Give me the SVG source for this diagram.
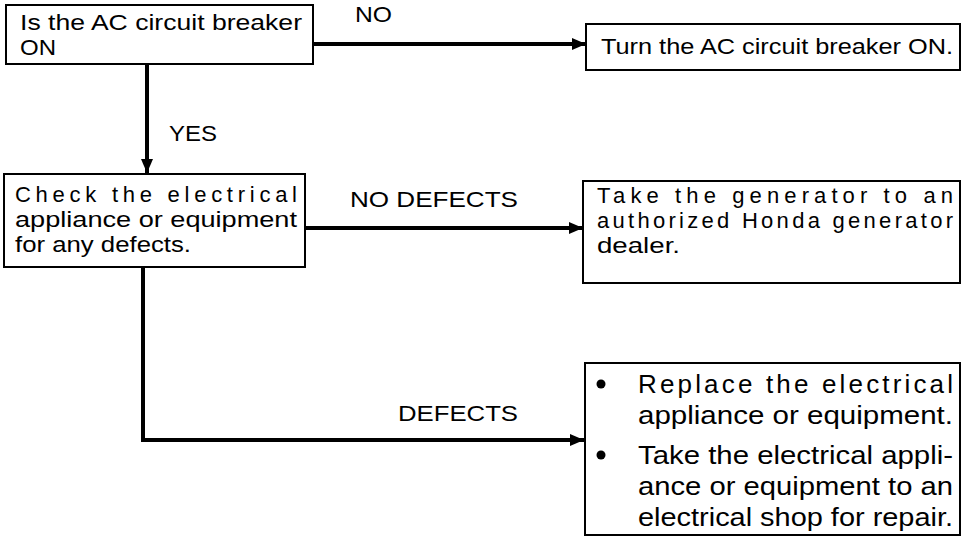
<svg xmlns="http://www.w3.org/2000/svg" width="965" height="545" viewBox="0 0 965 545">
<style>
.box{fill:#fff;stroke:#000;stroke-width:2}
.t{font-family:"Liberation Sans",Arial,Helvetica,sans-serif;font-size:22px;fill:#000}
.t5{font-family:"Liberation Sans",Arial,Helvetica,sans-serif;font-size:26px;fill:#000}
.lbl{font-family:"Liberation Sans",Arial,Helvetica,sans-serif;font-size:22px;fill:#000}
.c{fill:none;stroke:#000;stroke-width:4;marker-end:url(#ah)}
</style>
<defs>
<marker id="ah" markerUnits="userSpaceOnUse" markerWidth="14" markerHeight="12" refX="14" refY="6" orient="auto">
<path d="M0,0 L14,6 L0,12 Z" fill="#000"/>
</marker>
</defs>
<rect width="965" height="545" fill="#fff"/>
<g id="connectors">
<path class="c" d="M147,64 V173"/>
<path class="c" d="M313,44 H586"/>
<path class="c" d="M305,228 H583"/>
<path class="c" d="M143,267 V440 H584"/>
<text class="lbl" x="355" y="22" textLength="37" lengthAdjust="spacingAndGlyphs">NO</text>
<text class="lbl" x="169" y="141" textLength="48" lengthAdjust="spacingAndGlyphs">YES</text>
<text class="lbl" x="350" y="207" textLength="168" lengthAdjust="spacingAndGlyphs">NO DEFECTS</text>
<text class="lbl" x="398" y="421" textLength="120" lengthAdjust="spacingAndGlyphs">DEFECTS</text>
</g>
<g id="n1">
<rect class="box" x="6" y="5" width="307" height="59"/>
<text class="t" x="20" y="30" textLength="282" lengthAdjust="spacingAndGlyphs">Is the AC circuit breaker</text>
<text class="t" x="20" y="55" textLength="36" lengthAdjust="spacingAndGlyphs">ON</text>
</g>
<g id="n2">
<rect class="box" x="4" y="174" width="301" height="93"/>
<text class="t" x="15" y="202" textLength="282" lengthAdjust="spacing">Check the electrical</text>
<text class="t" x="15" y="227" textLength="282" lengthAdjust="spacingAndGlyphs">appliance or equipment</text>
<text class="t" x="15" y="252" textLength="176" lengthAdjust="spacingAndGlyphs">for any defects.</text>
</g>
<g id="n3">
<rect class="box" x="586" y="24" width="374" height="46"/>
<text class="t" x="601" y="54" textLength="352" lengthAdjust="spacingAndGlyphs">Turn the AC circuit breaker ON.</text>
</g>
<g id="n4">
<rect class="box" x="583" y="181" width="377" height="102"/>
<text class="t" x="597" y="203" textLength="356" lengthAdjust="spacing">Take the generator to an</text>
<text class="t" x="597" y="228" textLength="356" lengthAdjust="spacing">authorized Honda generator</text>
<text class="t" x="597" y="253" textLength="83" lengthAdjust="spacingAndGlyphs">dealer.</text>
</g>
<g id="n5">
<rect class="box" x="585" y="363" width="375" height="172"/>
<circle cx="601" cy="384" r="4.5"/>
<circle cx="601" cy="455" r="4.5"/>
<text class="t5" x="638" y="393" textLength="315" lengthAdjust="spacing">Replace the electrical</text>
<text class="t5" x="638" y="424" textLength="315" lengthAdjust="spacingAndGlyphs">appliance or equipment.</text>
<text class="t5" x="638" y="464" textLength="315" lengthAdjust="spacingAndGlyphs">Take the electrical appli-</text>
<text class="t5" x="638" y="495" textLength="315" lengthAdjust="spacingAndGlyphs">ance or equipment to an</text>
<text class="t5" x="638" y="526" textLength="315" lengthAdjust="spacingAndGlyphs">electrical shop for repair.</text>
</g>
</svg>
